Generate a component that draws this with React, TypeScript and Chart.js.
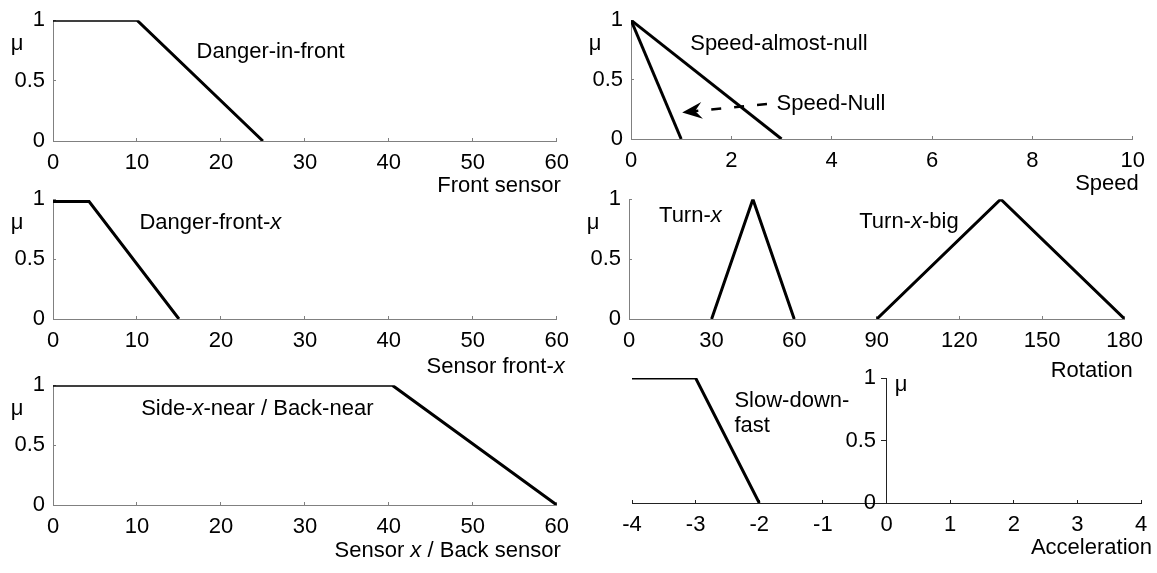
import React, { useEffect, useRef } from 'react';
import { Chart, registerables } from 'chart.js';

Chart.register(...registerables);

// ---------- data ----------
const frontSensorX = [0, 10, 25];
const dangerInFrontMu = [1, 1, 0];

const speedAlmostNullX = [0, 3];
const speedAlmostNullMu = [1, 0];
const speedNullX = [0, 1];
const speedNullMu = [1, 0];
const speedArrowX = [2.71, 1.02];
const speedArrowMu = [0.295, 0.224];

const sensorFrontX = [0, 4.3, 15];
const dangerFrontXMu = [0.98, 0.98, 0];

const turnXX = [30, 45, 60];
const turnXMu = [0, 1, 0];
const turnXBigX = [90, 135, 180];
const turnXBigMu = [0, 1, 0];

const sensorBackX = [0, 40.4, 60];
const sideNearMu = [1, 1, 0];

const accelX = [-4, -3, -2];
const slowDownFastMu = [1, 1, 0];

const muTicks = [0, 0.5, 1];
const sensorTicks = [0, 10, 20, 30, 40, 50, 60];
const speedTicks = [0, 2, 4, 6, 8, 10];
const rotationTicks = [0, 30, 60, 90, 120, 150, 180];
const accelTicks = [-4, -3, -2, -1, 0, 1, 2, 3, 4];

// ---------- styling / layout ----------
const FAMILY = "'Liberation Sans', Arial, Helvetica, sans-serif";
const FS = 22;
const YW = 55;
const PT = 20;
const PR = 20;
const XH = 70;

type Part = { t: string; i?: boolean };
type Label = { x: number; y: number; parts: Part[] };
type Series = { x: number[]; y: number[]; dashed?: boolean; arrow?: boolean };
type PanelCfg = {
  area: { l: number; r: number; t: number; b: number };
  xMin: number;
  xMax: number;
  xTicks: number[];
  series: Series[];
  labels: Label[];
  xTitle: Part[];
  titleDx: number;
  titleDy: number;
  centerY?: boolean;
  axisColor: string;
};

const panels: PanelCfg[] = [
  {
    area: { l: 53, r: 561, t: 16, b: 141 },
    xMin: 0, xMax: 60, xTicks: sensorTicks,
    series: [{ x: frontSensorX, y: dangerInFrontMu }],
    labels: [{ x: 17.1, y: 0.74, parts: [{ t: 'Danger-in-front' }] }],
    xTitle: [{ t: 'Front sensor' }], titleDx: 4, titleDy: 45,
    axisColor: '#808080',
  },
  {
    area: { l: 631, r: 1137, t: 16, b: 139 },
    xMin: 0, xMax: 10, xTicks: speedTicks,
    series: [
      { x: speedAlmostNullX, y: speedAlmostNullMu },
      { x: speedNullX, y: speedNullMu },
      { x: speedArrowX, y: speedArrowMu, dashed: true, arrow: true },
    ],
    labels: [
      { x: 1.18, y: 0.8, parts: [{ t: 'Speed-almost-null' }] },
      { x: 2.9, y: 0.295, parts: [{ t: 'Speed-Null' }] },
    ],
    xTitle: [{ t: 'Speed' }], titleDx: 6, titleDy: 45,
    axisColor: '#808080',
  },
  {
    area: { l: 53, r: 561, t: 195, b: 319 },
    xMin: 0, xMax: 60, xTicks: sensorTicks,
    series: [{ x: sensorFrontX, y: dangerFrontXMu }],
    labels: [{ x: 10.3, y: 0.8, parts: [{ t: 'Danger-front-' }, { t: 'x', i: true }] }],
    xTitle: [{ t: 'Sensor front-' }, { t: 'x', i: true }], titleDx: 8, titleDy: 48,
    axisColor: '#808080',
  },
  {
    area: { l: 629, r: 1135, t: 195, b: 319 },
    xMin: 0, xMax: 180, xTicks: rotationTicks,
    series: [
      { x: turnXX, y: turnXMu },
      { x: turnXBigX, y: turnXBigMu },
    ],
    labels: [
      { x: 10.9, y: 0.86, parts: [{ t: 'Turn-' }, { t: 'x', i: true }] },
      { x: 83.6, y: 0.81, parts: [{ t: 'Turn-' }, { t: 'x', i: true }, { t: '-big' }] },
    ],
    xTitle: [{ t: 'Rotation' }], titleDx: 8, titleDy: 52,
    axisColor: '#808080',
  },
  {
    area: { l: 53, r: 561, t: 381, b: 505 },
    xMin: 0, xMax: 60, xTicks: sensorTicks,
    series: [{ x: sensorBackX, y: sideNearMu }],
    labels: [{ x: 10.5, y: 0.806, parts: [{ t: 'Side-' }, { t: 'x', i: true }, { t: '-near / Back-near' }] }],
    xTitle: [{ t: 'Sensor ' }, { t: 'x', i: true }, { t: ' / Back sensor' }], titleDx: 4, titleDy: 46,
    axisColor: '#808080',
  },
  {
    area: { l: 632, r: 1141, t: 378, b: 503 },
    xMin: -4, xMax: 4, xTicks: accelTicks,
    series: [{ x: accelX, y: slowDownFastMu }],
    labels: [
      { x: -2.39, y: 0.82, parts: [{ t: 'Slow-down-' }] },
      { x: -2.39, y: 0.62, parts: [{ t: 'fast' }] },
      { x: 0.13, y: 0.944, parts: [{ t: 'μ' }] },
    ],
    xTitle: [{ t: 'Acceleration' }], titleDx: 11, titleDy: 45,
    centerY: true,
    axisColor: '#222222',
  },
];

function drawParts(ctx: CanvasRenderingContext2D, parts: Part[], x: number, y: number, align: string) {
  const fonts = parts.map((p) => `${p.i ? 'italic ' : ''}${FS}px ${FAMILY}`);
  const widths = parts.map((p, k) => {
    ctx.font = fonts[k];
    return ctx.measureText(p.t).width;
  });
  const total = widths.reduce((a, b) => a + b, 0);
  let cx = align === 'right' ? x - total : align === 'center' ? x - total / 2 : x;
  ctx.textBaseline = 'middle';
  ctx.textAlign = 'left';
  ctx.fillStyle = '#000';
  parts.forEach((p, k) => {
    ctx.font = fonts[k];
    ctx.fillText(p.t, cx, y);
    cx += widths[k];
  });
}

function Panel({ cfg }: { cfg: PanelCfg }) {
  const ref = useRef<HTMLCanvasElement | null>(null);
  const { area } = cfg;
  const cLeft = area.l - YW;
  const cTop = area.t - PT;
  const cW = area.r - area.l + YW + PR;
  const cH = area.b - area.t + PT + XH;

  useEffect(() => {
    const canvas = ref.current;
    if (!canvas) return;
    const datasets = cfg.series.map((s) => ({
      data: s.x.map((x, i) => ({ x, y: s.y[i] })),
      borderColor: '#000',
      borderWidth: s.dashed ? 2.5 : 3,
      borderDash: s.dashed ? [10, 13] : [],
      borderCapStyle: 'butt' as const,
      borderJoinStyle: 'miter' as const,
      pointRadius: 0,
      fill: false,
      tension: 0,
    }));

    const textPlugin = {
      id: 'panelText',
      afterDatasetsDraw(chart: any) {
        const ctx: CanvasRenderingContext2D = chart.ctx;
        const xs = chart.scales.x;
        const ys = chart.scales.y;
        const ca = chart.chartArea;
        ctx.save();
        cfg.series.forEach((s) => {
          if (!s.arrow) return;
          const n = s.x.length;
          const x1 = xs.getPixelForValue(s.x[n - 2]);
          const y1 = ys.getPixelForValue(s.y[n - 2]);
          const x2 = xs.getPixelForValue(s.x[n - 1]);
          const y2 = ys.getPixelForValue(s.y[n - 1]);
          const ang = Math.atan2(y2 - y1, x2 - x1);
          ctx.save();
          ctx.translate(x2, y2);
          ctx.rotate(ang);
          ctx.beginPath();
          ctx.moveTo(0, 0);
          ctx.lineTo(-20, -8.5);
          ctx.lineTo(-13, 0);
          ctx.lineTo(-20, 8.5);
          ctx.closePath();
          ctx.fillStyle = '#000';
          ctx.fill();
          ctx.restore();
        });
        cfg.labels.forEach((lb) => {
          drawParts(ctx, lb.parts, xs.getPixelForValue(lb.x), ys.getPixelForValue(lb.y), 'left');
        });
        drawParts(ctx, cfg.xTitle, ca.right + cfg.titleDx, ca.bottom + cfg.titleDy, 'right');
        if (!cfg.centerY) {
          drawParts(ctx, [{ t: 'μ' }], ca.left - 36, ca.top + 24, 'center');
        }
        ctx.restore();
      },
    };

    const chart = new Chart(canvas, {
      type: 'line',
      data: { datasets },
      options: {
        animation: false,
        responsive: false,
        devicePixelRatio: 1,
        events: [],
        layout: { padding: { left: cfg.centerY ? YW : 0, top: PT, right: PR, bottom: 0 } },
        plugins: {
          legend: { display: false },
          tooltip: { enabled: false },
          title: { display: false },
        },
        scales: {
          x: {
            type: 'linear',
            position: 'bottom',
            min: cfg.xMin,
            max: cfg.xMax,
            afterBuildTicks: (s: any) => {
              s.ticks = cfg.xTicks.map((v) => ({ value: v }));
            },
            afterFit: (s: any) => {
              s.height = XH;
            },
            grid: {
              drawOnChartArea: false,
              drawTicks: true,
              tickLength: -3,
              color: cfg.axisColor,
              lineWidth: 1,
            },
            border: { display: true, color: cfg.axisColor, width: 1 },
            ticks: {
              padding: 12,
              autoSkip: false,
              maxRotation: 0,
              minRotation: 0,
              color: '#000',
              font: { family: FAMILY, size: FS },
              callback: (v: any) => String(v),
            },
          },
          y: {
            type: 'linear',
            position: cfg.centerY ? { x: 0 } : 'left',
            min: 0,
            max: 1,
            afterBuildTicks: (s: any) => {
              s.ticks = muTicks.map((v) => ({ value: v }));
            },
            afterFit: (s: any) => {
              s.width = YW;
            },
            grid: {
              drawOnChartArea: false,
              drawTicks: true,
              tickLength: cfg.centerY ? 5 : -3,
              color: cfg.axisColor,
              lineWidth: 1,
            },
            border: { display: true, color: cfg.axisColor, width: 1 },
            ticks: {
              padding: cfg.centerY ? 2 : 11,
              autoSkip: false,
              color: '#000',
              font: { family: FAMILY, size: FS },
              callback: (v: any) => (cfg.centerY ? String(v) + ' \u2009' : String(v)),
            },
          },
        },
      } as any,
      plugins: [textPlugin],
    });
    return () => chart.destroy();
  }, [cfg]);

  return (
    <canvas
      ref={ref}
      width={cW}
      height={cH}
      style={{ position: 'absolute', left: cLeft, top: cTop, width: cW, height: cH, display: 'block' }}
    />
  );
}

export default function App() {
  return (
    <div
      style={{
        position: 'absolute',
        left: 0,
        top: 0,
        width: 1157,
        height: 573,
        background: '#fff',
        overflow: 'hidden',
      }}
    >
      {panels.map((p, i) => (
        <Panel key={i} cfg={p} />
      ))}
    </div>
  );
}
